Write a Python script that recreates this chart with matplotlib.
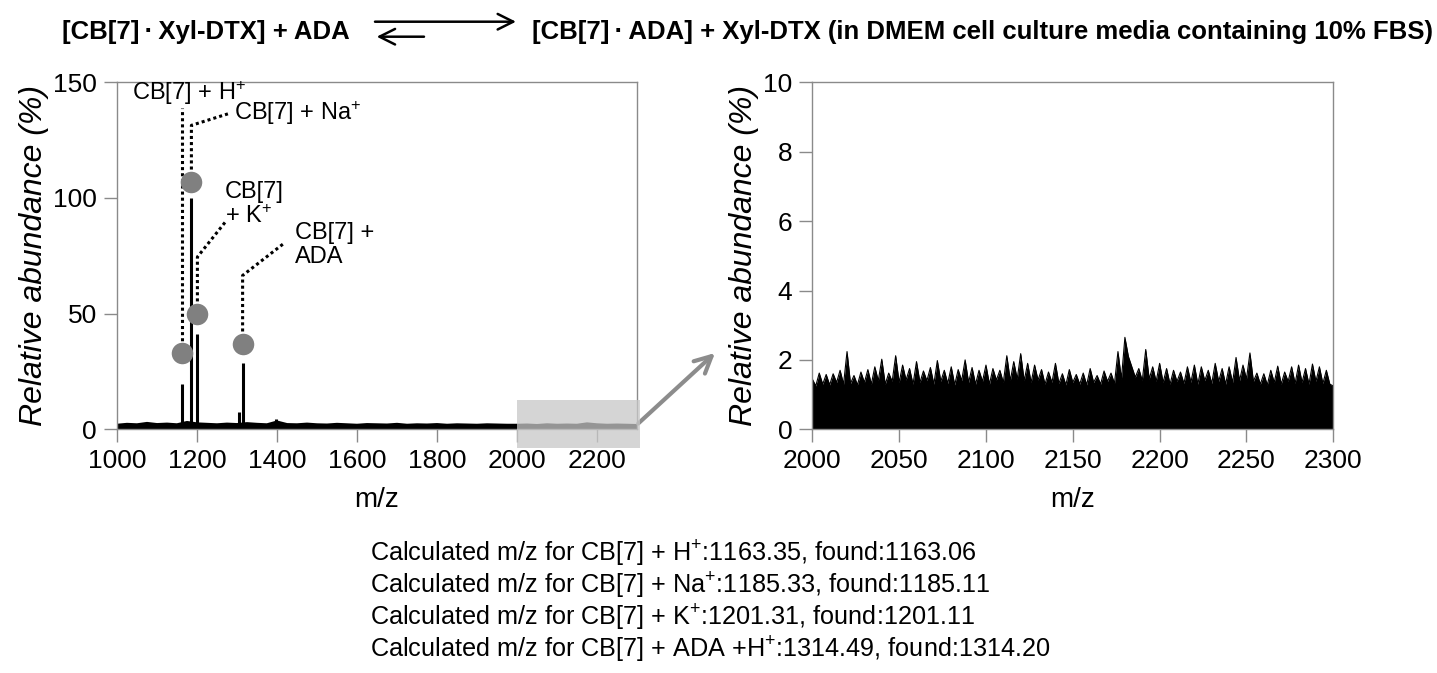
import matplotlib
matplotlib.use("Agg")
import matplotlib.pyplot as plt
from matplotlib.patches import Rectangle

plt.rcParams["font.family"] = ["Liberation Sans", "DejaVu Sans"]
plt.rcParams["mathtext.fontset"] = "custom"
plt.rcParams["mathtext.rm"] = "Liberation Sans"
plt.rcParams["mathtext.it"] = "Liberation Sans:italic"

# ---- left spectrum: baseline (every 25 m/z) + main peaks ----
base_mz = list(range(1000, 2301, 25))
base_int = [1.8, 2.2, 2.0, 2.6, 2.1, 2.3, 2.0, 3.0, 2.4, 2.2,
            2.0, 2.3, 2.1, 2.5, 2.2, 2.0, 3.2, 2.1, 2.0, 2.3,
            2.0, 1.9, 2.2, 2.0, 1.8, 2.1, 2.0, 1.9, 2.2, 1.8,
            2.0, 1.9, 2.1, 1.8, 2.0, 1.9, 1.8, 2.0, 1.9, 1.8,
            1.8, 1.9, 1.7, 2.0, 1.8, 1.9, 1.8, 2.4, 2.0, 1.8, 1.9, 1.8, 1.7]
peak_mz = [1163, 1185, 1201, 1305, 1314, 1397]
peak_int = [19.7, 100, 41.3, 7.5, 28.7, 4.3]

# labelled species (gray dots) and their labels
dot_mz = [1163, 1186, 1201, 1314]
dot_y = [33, 107, 50, 37]
elbow_y = [139, 131.4, 74.5, 66.5]
end_mz = [1163, 1278, 1274, 1416]
end_y = [139, 136.4, 90.3, 80.2]
labels = ["CB[7] + H$^{+}$", "CB[7] + Na$^{+}$", "CB[7]\n+ K$^{+}$", "CB[7] +\nADA"]
label_mz = [1038, 1292, 1270, 1446]
label_y = [145.3, 136.7, 97.1, 79.6]

# ---- right spectrum: zoom 2000-2300 (every 2 m/z) ----
zoom_mz = list(range(2000, 2301, 2))
zoom_int = [1.45, 1.25, 1.62, 1.30, 1.58, 1.28, 1.60, 1.35, 1.70, 1.30,
            2.24, 1.32, 1.55, 1.28, 1.65, 1.35, 1.72, 1.30, 1.80, 1.40,
            2.02, 1.30, 1.62, 1.38, 2.12, 1.35, 1.85, 1.42, 1.75, 1.30,
            1.95, 1.35, 1.68, 1.40, 1.78, 1.30, 1.98, 1.38, 1.70, 1.32,
            1.80, 1.28, 1.72, 1.40, 2.00, 1.35, 1.78, 1.30, 1.70, 1.38,
            1.85, 1.30, 1.75, 1.42, 1.70, 1.35, 2.12, 1.40, 1.95, 1.45,
            2.18, 1.40, 1.90, 1.35, 1.85, 1.42, 1.72, 1.30, 1.65, 1.35,
            1.90, 1.32, 1.60, 1.28, 1.72, 1.35, 1.58, 1.30, 1.62, 1.28,
            1.75, 1.35, 1.55, 1.30, 1.68, 1.38, 1.62, 1.32, 2.24, 1.45,
            2.65, 2.10, 1.80, 1.50, 1.75, 1.40, 2.30, 1.45, 1.80, 1.38,
            1.90, 1.35, 1.75, 1.30, 1.70, 1.38, 1.65, 1.32, 1.80, 1.35,
            1.85, 1.30, 1.80, 1.40, 1.70, 1.32, 1.90, 1.38, 1.75, 1.30,
            1.80, 1.35, 2.07, 1.40, 1.85, 1.45, 2.20, 1.38, 1.62, 1.30,
            1.60, 1.28, 1.70, 1.35, 1.82, 1.30, 1.65, 1.38, 1.80, 1.32,
            1.85, 1.35, 1.75, 1.30, 1.88, 1.38, 1.80, 1.32, 1.70, 1.30,
            1.25]

found_lines = [
    "Calculated m/z for CB[7] + H$^{+}$:1163.35, found:1163.06",
    "Calculated m/z for CB[7] + Na$^{+}$:1185.33, found:1185.11",
    "Calculated m/z for CB[7] + K$^{+}$:1201.31, found:1201.11",
    "Calculated m/z for CB[7] + ADA +H$^{+}$:1314.49, found:1314.20",
]

W, H = 1437, 673
fig = plt.figure(figsize=(W / 100, H / 100), dpi=100)


def fx(px):
    return px / W


def fy(py):
    return 1 - py / H


ax1 = fig.add_axes([fx(117), fy(429.3), fx(637 - 117), (429.3 - 82.3) / H])
ax2 = fig.add_axes([fx(812.3), fy(429.3), fx(1333.3 - 812.3), (429.3 - 82.3) / H])

spine_c = "#8a8a8a"
for ax in (ax1, ax2):
    for s in ax.spines.values():
        s.set_color(spine_c)
        s.set_linewidth(1.0)
    ax.tick_params(direction="out", length=9.5, width=1.0, color=spine_c,
                   labelsize=19, pad=5)
    ax.set_xlabel("m/z", fontsize=20, labelpad=10)
    ax.set_ylabel("Relative abundance (%)", fontsize=23, style="italic", labelpad=3)

# left panel
ax1.fill_between(base_mz, 0, base_int, color="black", lw=0)
ax1.plot(base_mz, base_int, color="black", lw=2)
ax1.vlines(peak_mz, 0, peak_int, color="black", lw=2.2)
ax1.set_xlim(1000, 2300)
ax1.set_ylim(0, 150)
ax1.set_xticks(range(1000, 2201, 200))
ax1.set_yticks([0, 50, 100, 150])

for i in range(len(dot_mz)):
    ax1.plot([dot_mz[i], dot_mz[i], end_mz[i]], [dot_y[i], elbow_y[i], end_y[i]],
             color="black", ls=(0, (1, 1)), lw=2.2, zorder=3)
    ax1.text(label_mz[i], label_y[i], labels[i], fontsize=17, ha="left", va="center",
             linespacing=1.15, zorder=5)
ax1.plot(dot_mz, dot_y, "o", ms=15.5, color="#808080", mec="none", zorder=4)

ax1.add_patch(Rectangle((2000, -8.2), 308, 20.7, facecolor="#c8c8c8", edgecolor="none",
                        alpha=0.75, clip_on=False, zorder=6))

# arrow from highlighted region to zoom panel
ax1.annotate("", xy=(fx(715), fy(353)), xycoords="figure fraction",
             xytext=(2303, 2.5), textcoords="data",
             arrowprops=dict(arrowstyle="->", color="#8c8c8c", lw=3,
                             mutation_scale=30, shrinkA=0, shrinkB=0))

# right panel
ax2.fill_between(zoom_mz, 0, zoom_int, color="black", lw=0)
ax2.plot(zoom_mz, zoom_int, color="black", lw=0.8)
ax2.set_xlim(2000, 2300)
ax2.set_ylim(0, 10)
ax2.set_xticks(range(2000, 2301, 50))
ax2.set_yticks(range(0, 11, 2))

# reaction header
title_font = dict(family=["Liberation Sans Narrow", "Liberation Sans"], fontsize=18.5,
                  fontweight="bold", va="center")
fig.text(fx(62), fy(31.7), "[CB[7]\u2009\u00b7\u2009Xyl-DTX] + ADA", ha="left", **title_font)
fig.text(fx(531.7), fy(31.7),
         "[CB[7]\u2009\u00b7\u2009ADA] + Xyl-DTX (in DMEM cell culture media containing 10% FBS)",
         ha="left", **title_font)
ann_kw = dict(xycoords="figure fraction", textcoords="figure fraction")
ax1.annotate("", xy=(fx(516), fy(21.7)), xytext=(fx(375), fy(21.7)),
             arrowprops=dict(arrowstyle="->", color="black", lw=1.8,
                             mutation_scale=28, shrinkA=0, shrinkB=0), **ann_kw)
ax1.annotate("", xy=(fx(376.7), fy(36.7)), xytext=(fx(424), fy(36.7)),
             arrowprops=dict(arrowstyle="->", color="black", lw=1.8,
                             mutation_scale=28, shrinkA=0, shrinkB=0), **ann_kw)

# calculated / found values
for k, line in enumerate(found_lines):
    fig.text(fx(370), fy(554 + 32 * k), line, ha="left", va="center", fontsize=18.2,
             family=["Liberation Sans Narrow", "Liberation Sans"])

fig.savefig("out.png", dpi=100)
